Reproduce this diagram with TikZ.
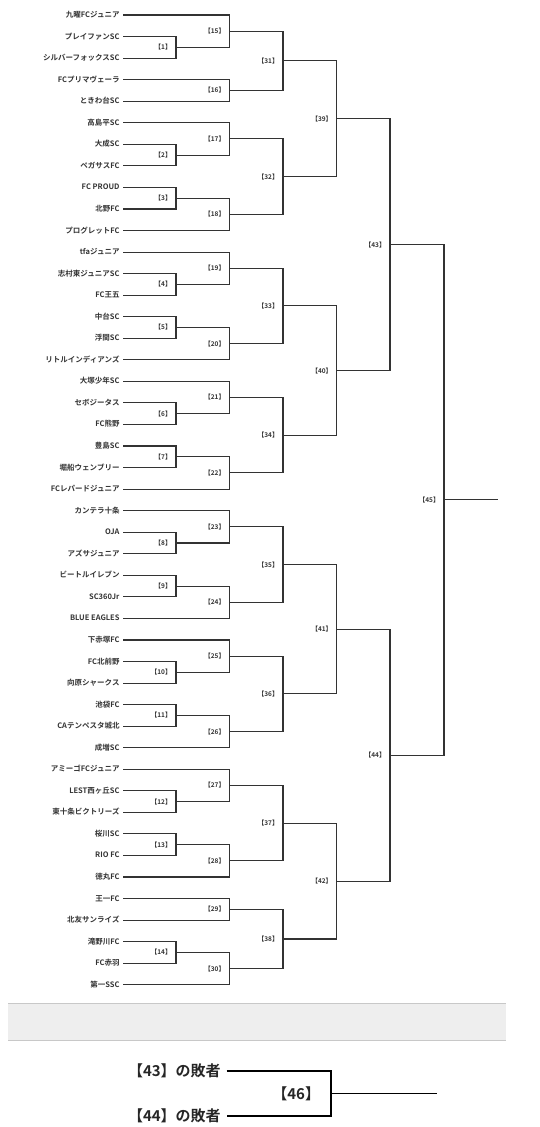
\documentclass[tikz,border=0pt]{standalone}
\usepackage{fontspec}
\setmainfont{Noto Sans CJK JP}[BoldFont={Noto Sans CJK JP Bold}]
\usetikzlibrary{calc}
\definecolor{bandfill}{HTML}{EEEEEE}
\definecolor{bandline}{HTML}{C8C8C8}
\definecolor{ink}{HTML}{333333}
\tikzset{
  team/.style={font=\bfseries\fontsize{7.5}{9}\selectfont, text=ink, anchor=east,
    inner xsep=3.5pt, inner ysep=0pt, outer sep=0pt, text height=6pt, text depth=1pt},
  lbl/.style={font=\bfseries\fontsize{6.5}{8}\selectfont, text=ink, anchor=east,
    inner sep=0pt, outer sep=0pt},
  br/.style={draw=black!80, line width=1.1pt},
  bteam/.style={font=\bfseries\fontsize{15}{17}\selectfont, text=black!85, anchor=east,
    inner xsep=6pt, inner ysep=0pt, outer sep=0pt, text height=12pt, text depth=2pt},
  blbl/.style={font=\bfseries\fontsize{15}{17}\selectfont, text=black!85, anchor=east,
    inner sep=0pt, outer sep=0pt},
  bbr/.style={draw=black, line width=1.5pt},
}
\newcommand\bmatch[5]{%
  \path let \p1=($(#2)!.5!(#3)$) in coordinate (#1) at (#4pt,\y1);
  \draw[br] (#2) -| (#1) |- (#3);
  \node[lbl] (#1l) at ($(#1)+(-4.5,0)$) {【#5】};
}
\begin{document}
\begin{tikzpicture}[x=1pt,y=-1pt]
\useasboundingbox (0,0) rectangle (539,1127);
% teams
\foreach \nm [count=\i from 0] in {九曜FCジュニア,プレイファンSC,シルバーフォックスSC,FCプリマヴェーラ,ときわ台SC,高島平SC,大成SC,ペガサスFC,FC PROUD,北野FC,プログレットFC,tfaジュニア,志村東ジュニアSC,FC王五,中台SC,浮間SC,リトルインディアンズ,大塚少年SC,セボジータス,FC熊野,豊島SC,堀船ウェンブリー,FCレパードジュニア,カンテラ十条,OJA,アズサジュニア,ビートルイレブン,SC360Jr,BLUE EAGLES,下赤塚FC,FC北前野,向原シャークス,池袋FC,CAテンペスタ城北,成増SC,アミーゴFCジュニア,LEST西ヶ丘SC,東十条ビクトリーズ,桜川SC,RIO FC,徳丸FC,王一FC,北友サンライズ,滝野川FC,FC赤羽,第一SSC}
  \node[team] (n\i) at (123,{15+21.55*\i}) {\nm};
% round 1
\bmatch{m1}{n1.east}{n2.east}{176}{1}
\bmatch{m2}{n6.east}{n7.east}{176}{2}
\bmatch{m3}{n8.east}{n9.east}{176}{3}
\bmatch{m4}{n12.east}{n13.east}{176}{4}
\bmatch{m5}{n14.east}{n15.east}{176}{5}
\bmatch{m6}{n18.east}{n19.east}{176}{6}
\bmatch{m7}{n20.east}{n21.east}{176}{7}
\bmatch{m8}{n24.east}{n25.east}{176}{8}
\bmatch{m9}{n26.east}{n27.east}{176}{9}
\bmatch{m10}{n30.east}{n31.east}{176}{10}
\bmatch{m11}{n32.east}{n33.east}{176}{11}
\bmatch{m12}{n36.east}{n37.east}{176}{12}
\bmatch{m13}{n38.east}{n39.east}{176}{13}
\bmatch{m14}{n43.east}{n44.east}{176}{14}
% round 2
\bmatch{m15}{n0.east}{m1}{229.5}{15}
\bmatch{m16}{n3.east}{n4.east}{229.5}{16}
\bmatch{m17}{n5.east}{m2}{229.5}{17}
\bmatch{m18}{m3}{n10.east}{229.5}{18}
\bmatch{m19}{n11.east}{m4}{229.5}{19}
\bmatch{m20}{m5}{n16.east}{229.5}{20}
\bmatch{m21}{n17.east}{m6}{229.5}{21}
\bmatch{m22}{m7}{n22.east}{229.5}{22}
\bmatch{m23}{n23.east}{m8}{229.5}{23}
\bmatch{m24}{m9}{n28.east}{229.5}{24}
\bmatch{m25}{n29.east}{m10}{229.5}{25}
\bmatch{m26}{m11}{n34.east}{229.5}{26}
\bmatch{m27}{n35.east}{m12}{229.5}{27}
\bmatch{m28}{m13}{n40.east}{229.5}{28}
\bmatch{m29}{n41.east}{n42.east}{229.5}{29}
\bmatch{m30}{m14}{n45.east}{229.5}{30}
% round 3
\bmatch{m31}{m15}{m16}{283}{31}
\bmatch{m32}{m17}{m18}{283}{32}
\bmatch{m33}{m19}{m20}{283}{33}
\bmatch{m34}{m21}{m22}{283}{34}
\bmatch{m35}{m23}{m24}{283}{35}
\bmatch{m36}{m25}{m26}{283}{36}
\bmatch{m37}{m27}{m28}{283}{37}
\bmatch{m38}{m29}{m30}{283}{38}
% round 4
\bmatch{m39}{m31}{m32}{336.7}{39}
\bmatch{m40}{m33}{m34}{336.7}{40}
\bmatch{m41}{m35}{m36}{336.7}{41}
\bmatch{m42}{m37}{m38}{336.7}{42}
% round 5
\bmatch{m43}{m39}{m40}{390}{43}
\bmatch{m44}{m41}{m42}{390}{44}
% final
\bmatch{m45}{m43}{m44}{444}{45}
\coordinate (fin) at ($(m45)+(54,0)$);
\draw[br] (m45) -- (fin);
% band
\fill[bandfill] (8,1003.3) rectangle (505.7,1040.3);
\draw[bandline, line width=1pt] (8,1003.3) -- (505.7,1003.3);
\draw[bandline, line width=1pt] (8,1040.3) -- (505.7,1040.3);
% third place
\node[bteam] (l43) at (226.7,1071.2) {【43】の敗者};
\node[bteam] (l44) at (226.7,1116) {【44】の敗者};
\path let \p1=($(l43.east)!.5!(l44.east)$) in coordinate (m46) at (331pt,\y1);
\draw[bbr] (l43.east) -| (m46) |- (l44.east);
\node[blbl] (m46l) at ($(m46)+(-11,0)$) {【46】};
\coordinate (fin46) at ($(m46)+(105.7,0)$);
\draw[bbr] (m46) -- (fin46);
\end{tikzpicture}
\end{document}
